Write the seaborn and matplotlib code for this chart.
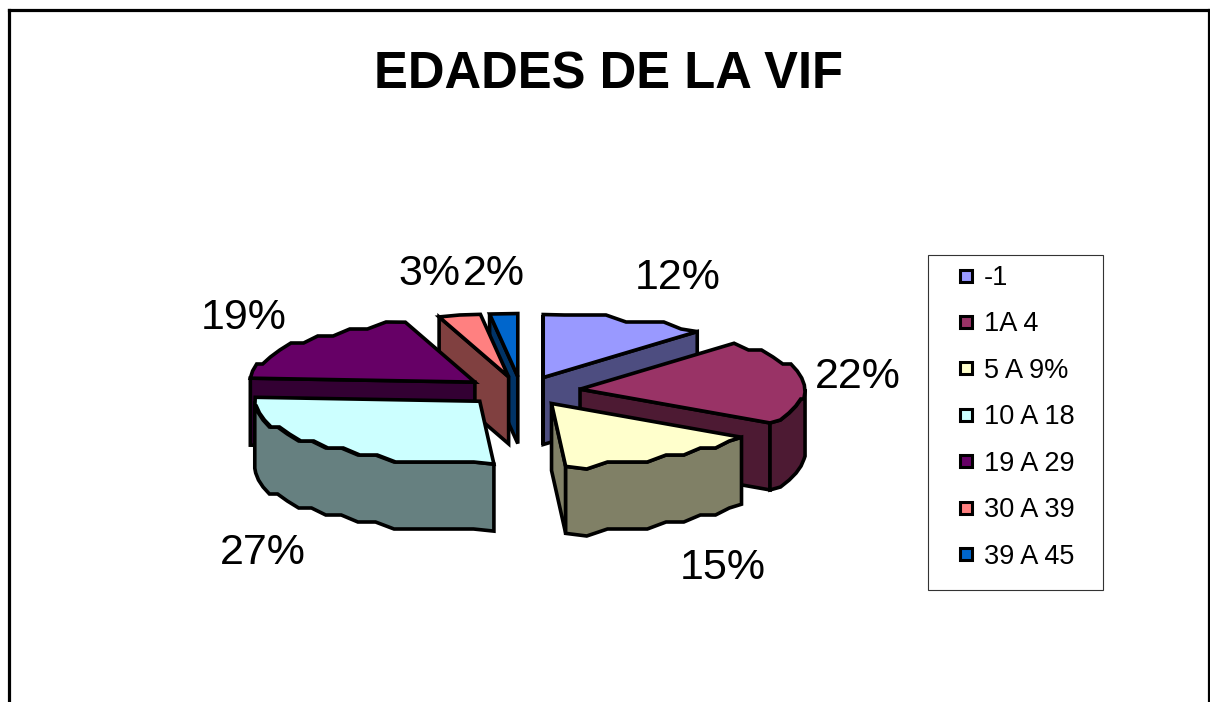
import numpy as np
import matplotlib
matplotlib.use('Agg')
import matplotlib.pyplot as plt
from matplotlib.lines import Line2D
from matplotlib.patches import Rectangle
import seaborn as sns

categories = ['-1', '1A 4', '5 A 9%', '10 A 18', '19 A 29', '30 A 39', '39 A 45']
values = [12, 22, 15, 27, 19, 3, 2]
colors = ['#9999ff', '#993366', '#ffffcc', '#ccffff', '#660066', '#ff8080', '#0066cc']

# layout in pixels of the 1210x702 image
CX, CY = 521.5, 391
RX, RY = 225, 63
DEPTH = 67
EXPLODE_X, EXPLODE_Y = 59, 14.5
LW = 2.6
STEP = 7   # the arcs of the original are stair stepped
label_xy = [(678, 278), (858, 377), (723, 568), (263, 553), (244, 318), (429, 274), (494, 274)]

sns.set_theme(style='white')
plt.rcParams['font.family'] = ['Liberation Sans', 'DejaVu Sans']
pal = sns.color_palette(colors)

fig = plt.figure(figsize=(12.1, 7.02), dpi=100)
ax = fig.add_axes([8.5 / 1210, 0, 1200 / 1210, (702 - 9.5) / 702])
ax.set_xlim(8.5, 1208.5)
ax.set_ylim(702, 9.5)
ax.set_xticks([])
ax.set_yticks([])
sns.despine(ax=ax, top=False, right=False, bottom=True, left=False)
for side in ['top', 'left', 'right']:
    ax.spines[side].set_linewidth(2.3)
    ax.spines[side].set_color('black')


def arc(th1, th2, ox, oy):
    n = max(int((th2 - th1) / 5), 1) + 1
    th = np.radians(np.linspace(th1, th2, n))
    xs, ys = ox + RX * np.sin(th), oy - RY * np.cos(th)
    ys[1:-1] = np.round(ys[1:-1] / STEP) * STEP
    return xs, ys


def poly(xs, ys, col, z):
    ax.fill(xs, ys, facecolor=col, edgecolor='black', lw=LW, joinstyle='miter', zorder=z)


edges = np.cumsum([0] + values) * 3.6
mids = (edges[:-1] + edges[1:]) / 2
# back slices first so the front ones cover them
order = np.argsort(-np.cos(np.radians(mids)))

for z, i in enumerate(order):
    th1, th2 = edges[i], edges[i + 1]
    top, dark = pal[i], tuple(np.array(pal[i]) * 0.5)
    ox = CX + EXPLODE_X * np.sin(np.radians(mids[i]))
    oy = CY - EXPLODE_Y * np.cos(np.radians(mids[i]))
    # radial walls that look to the viewer
    if np.sin(np.radians(th2)) > 0:
        px, py = arc(th2, th2, ox, oy)
        poly([ox, px[0], px[0], ox], [oy, py[0], py[0] + DEPTH, oy + DEPTH], dark, z)
    if np.sin(np.radians(th1)) < 1e-9:
        px, py = arc(th1, th1, ox, oy)
        poly([ox, px[0], px[0], ox], [oy, py[0], py[0] + DEPTH, oy + DEPTH], dark, z)
    # outer wall, front half only
    a, b = max(th1, 90), min(th2, 270)
    if b > a:
        px, py = arc(a, b, ox, oy)
        poly(np.r_[px, px[::-1]], np.r_[py, py[::-1] + DEPTH], dark, z)
    px, py = arc(th1, th2, ox, oy)
    poly(np.r_[ox, px], np.r_[oy, py], top, z)

for v, (x, y) in zip(values, label_xy):
    ax.text(x, y, f'{v}%', fontsize=31, ha='center', va='center', color='black', zorder=50)

ax.text(609, 75, 'EDADES DE LA VIF', fontsize=36.5, fontweight='bold', ha='center', va='center', color='black')

# frame is drawn apart, the legend padding is not the same on all sides
ax.add_patch(Rectangle((928, 255), 175, 335, facecolor='white', edgecolor='#333333', lw=0.8, zorder=59))
handles = [Line2D([], [], linestyle='none', marker='s', markersize=8.6, markerfacecolor=c,
                  markeredgecolor='black', markeredgewidth=2.2) for c in pal]
leg = ax.legend(handles, categories, loc='upper left', bbox_to_anchor=(957, 265),
                bbox_transform=ax.transData, borderaxespad=0, fontsize=19.5, borderpad=0,
                handlelength=0.63, handletextpad=0.37, labelspacing=0.755,
                frameon=False, labelcolor='black')
leg.set_zorder(60)

fig.savefig('out.png', dpi=100)
